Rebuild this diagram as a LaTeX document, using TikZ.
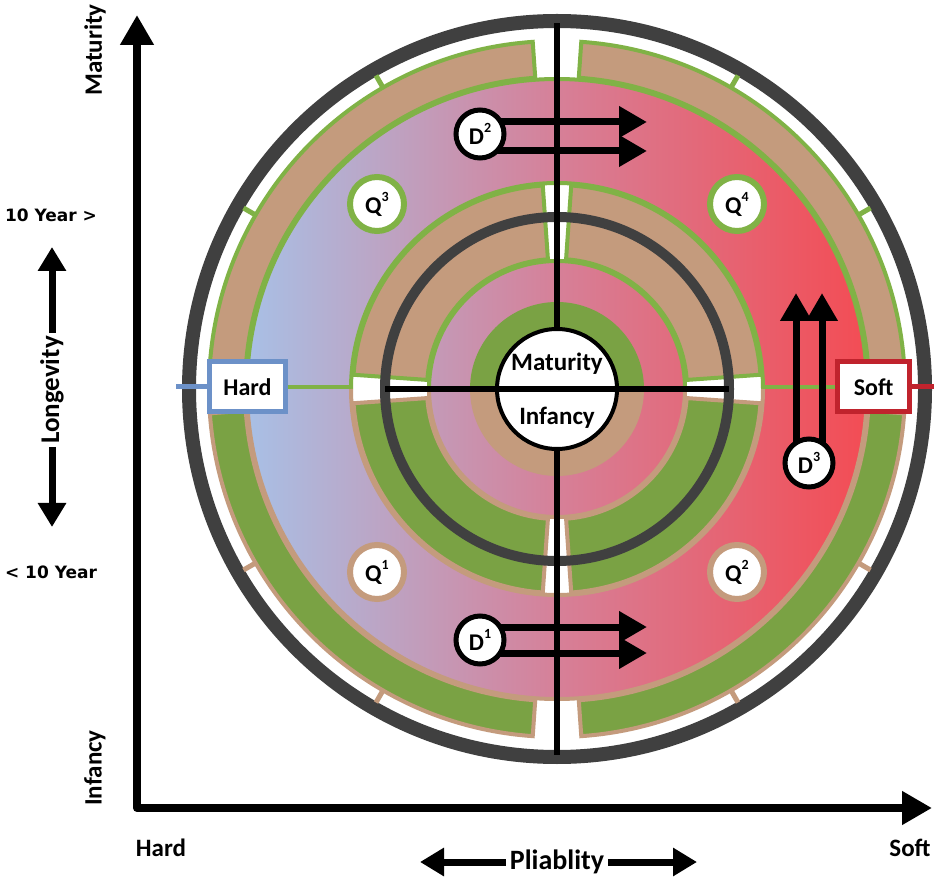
\documentclass[tikz,border=0pt]{standalone}
\usepackage{fontspec}
\setmainfont{Carlito}
\newfontfamily\verdfont{DejaVu Sans}
\usetikzlibrary{arrows.meta,calc}
\pgfdeclarelayer{mid}
\pgfdeclarelayer{front}
\pgfsetlayers{main,mid,front}
\definecolor{brn}{RGB}{196,155,125}
\definecolor{grn}{RGB}{122,162,68}
\definecolor{grnl}{RGB}{128,178,70}
\definecolor{ringc}{RGB}{64,64,64}
\definecolor{hardc}{RGB}{108,145,200}
\definecolor{softc}{RGB}{192,35,45}
\definecolor{gl}{RGB}{168,192,230}
\definecolor{gm}{RGB}{214,128,152}
\definecolor{gr}{RGB}{243,76,84}
\newcommand\annsec[5]{\filldraw[#1] ($(C)+(#2:#5)$) arc[start angle=#2,end angle=#3,radius=#5] -- ($(C)+(#3:#4)$) arc[start angle=#3,end angle=#2,radius=#4] -- cycle;}
\newcommand\halfarcs[1]{\draw[grnl, line width=4] ($(C)+(0:#1)$) arc[start angle=0,end angle=180,radius=#1];
\draw[brn, line width=4] ($(C)+(180:#1)$) arc[start angle=180,end angle=360,radius=#1];}
\newcommand\supx[2]{#1\raisebox{0.5em}{\fontsize{14}{14}\selectfont #2}}
\begin{document}
\begin{tikzpicture}[x=1pt,y=1pt,
  topband/.style={fill=brn, draw=grnl, line width=4},
  botband/.style={fill=grn, draw=brn, line width=4},
  txt/.style={font=\bfseries\fontsize{25}{27}\selectfont, inner sep=0pt},
  darrow/.style={line width=7, -{Triangle[length=28pt,width=30pt]}},
  smallarrow/.style={line width=7, -{Triangle[length=24pt,width=27pt]}},
  qnode/.style={circle, fill=white, line width=6, minimum size=54pt, inner sep=0pt, font=\bfseries\fontsize{24}{26}\selectfont},
  dnode/.style={circle, fill=white, draw=black, line width=5, minimum size=48pt, inner sep=0pt, font=\bfseries\fontsize{24}{26}\selectfont},
  tagbox/.style={rectangle, fill=white, line width=5, minimum height=50pt, inner sep=0pt, font=\bfseries\fontsize{24}{26}\selectfont},
  yrlbl/.style={font=\verdfont\bfseries\fontsize{17}{19}\selectfont, inner sep=0pt}
]
\useasboundingbox (0,0) rectangle (934,879);
\fill[white] (0,0) rectangle (934,879);
\coordinate (C) at (557,490);

% axes
\coordinate (O) at (137,71);
\coordinate (ytip) at (137,864);
\coordinate (xtip) at (932,71);
\draw[line width=8, line join=round, {Triangle[length=30pt,width=32pt]}-{Triangle[length=30pt,width=32pt]}] (ytip) -- (O) -- (xtip);

% outer dark ring and ticks
\draw[ringc, line width=14] (C) circle (368);
\foreach \a in {30,60,120,150} \draw[grnl, line width=5] ($(C)+(\a:348)$) -- ($(C)+(\a:362)$);
\foreach \a in {210,240,300,330} \draw[brn, line width=5] ($(C)+(\a:348)$) -- ($(C)+(\a:362)$);

% gradient disk
\shade[left color=gl, right color=gr, middle color=gm] (C) circle (311);
\halfarcs{310}

% outer band
\annsec{topband}{4}{86}{312}{348}
\annsec{topband}{94}{176}{312}{348}
\annsec{botband}{184}{266}{312}{348}
\annsec{botband}{274}{356}{312}{348}

% inner band
\fill[white, even odd rule] (C) circle (206) (C) circle (128);
\annsec{topband}{4}{86}{130}{204}
\annsec{topband}{94}{176}{130}{204}
\annsec{botband}{184}{266}{130}{204}
\annsec{botband}{274}{356}{130}{204}
\halfarcs{206}
\halfarcs{128}

% inner half disks
\fill[grn] ($(C)+(87,0)$) arc[start angle=0,end angle=180,radius=87] -- cycle;
\fill[brn] ($(C)+(-87,0)$) arc[start angle=180,end angle=360,radius=87] -- cycle;

% inner dark ring
\draw[ringc, line width=10] (C) circle (172);

% tag boxes
\node[tagbox, draw=hardc, minimum width=76pt] (hard) at (247.5,492) {Hard};
\node[tagbox, draw=softc, minimum width=72pt] (soft) at (873.5,492) {Soft};
\coordinate (hl0) at (176,492);
\coordinate (sr0) at (934,492);
\draw[hardc, line width=5] (hl0) -- (hard.west);
\draw[softc, line width=5] (soft.east) -- (sr0);
\coordinate (gL) at (351,492);
\coordinate (gR) at (763,492);
\draw[grnl, line width=4] (hard.east) -- (gL);
\draw[grnl, line width=4] (soft.west) -- (gR);

% center
\node[circle, fill=white, draw=black, line width=4, minimum size=120pt, inner sep=0pt] (ctr) at (C) {};
\coordinate (hl) at ($(C)+(-172,0)$);
\coordinate (hr) at ($(C)+(172,0)$);
\draw[line width=6] (hl) -- (hr);
\node[txt, anchor=base] (mat) at (557,508) {Maturity};
\node[txt, anchor=base] (inf) at (557,454) {Infancy};
\coordinate (vt) at (557,856);
\coordinate (vb) at (557,124);
\draw[line width=6] (ctr.north) -- (vt);
\draw[line width=6] (ctr.south) -- (vb);

% Q nodes
\node[qnode, draw=grnl] (q3) at (377,675) {\supx{Q}{3}};
\node[qnode, draw=grnl] (q4) at (737,675) {\supx{Q}{4}};
\node[qnode, draw=brn] (q1) at (377,307) {\supx{Q}{1}};
\node[qnode, draw=brn] (q2) at (737,307) {\supx{Q}{2}};

% D nodes and arrows
\begin{pgfonlayer}{front}
\node[dnode] (d2) at (480,745) {\supx{D}{2}};
\node[dnode] (d1) at (480,239) {\supx{D}{1}};
\node[dnode] (d3) at (809,416) {\supx{D}{3}};
\end{pgfonlayer}
\begin{pgfonlayer}{mid}
\coordinate (d2a) at (647,757);
\coordinate (d2b) at (647,728);
\draw[darrow] (d2.center |- d2a) -- (d2a);
\draw[darrow] (d2.center |- d2b) -- (d2b);
\coordinate (d1a) at (647,252);
\coordinate (d1b) at (647,226);
\draw[darrow] (d1.center |- d1a) -- (d1a);
\draw[darrow] (d1.center |- d1b) -- (d1b);
\coordinate (d3a) at (796,586);
\coordinate (d3b) at (822,586);
\draw[darrow] (d3.center -| d3a) -- (d3a);
\draw[darrow] (d3.center -| d3b) -- (d3b);
\end{pgfonlayer}

% axis labels
\node[txt, rotate=90] (lmat) at (95,829) {Maturity};
\node[txt, rotate=90] (linf) at (95,111) {Infancy};
\node[yrlbl] (y10a) at (51,664) {10 Year >};
\node[yrlbl] (y10b) at (51,307) {< 10 Year};
\node[txt, rotate=90, inner sep=3pt, font=\bfseries\fontsize{27}{29}\selectfont] (lon) at (52,489) {Longevity};
\coordinate (lonup) at (52,632);
\coordinate (londn) at (52,352);
\draw[smallarrow] (lon.east) -- (lonup);
\draw[smallarrow] (lon.west) -- (londn);
\node[txt] (bhard) at (161,31) {Hard};
\node[txt] (bsoft) at (910,31) {Soft};
\node[txt, inner sep=4pt, font=\bfseries\fontsize{28}{30}\selectfont] (pl) at (557,17) {Pliablity};
\coordinate (pll) at (420,17);
\coordinate (plr) at (697,17);
\draw[smallarrow] (pl.west) -- (pll);
\draw[smallarrow] (pl.east) -- (plr);
\end{tikzpicture}
\end{document}
